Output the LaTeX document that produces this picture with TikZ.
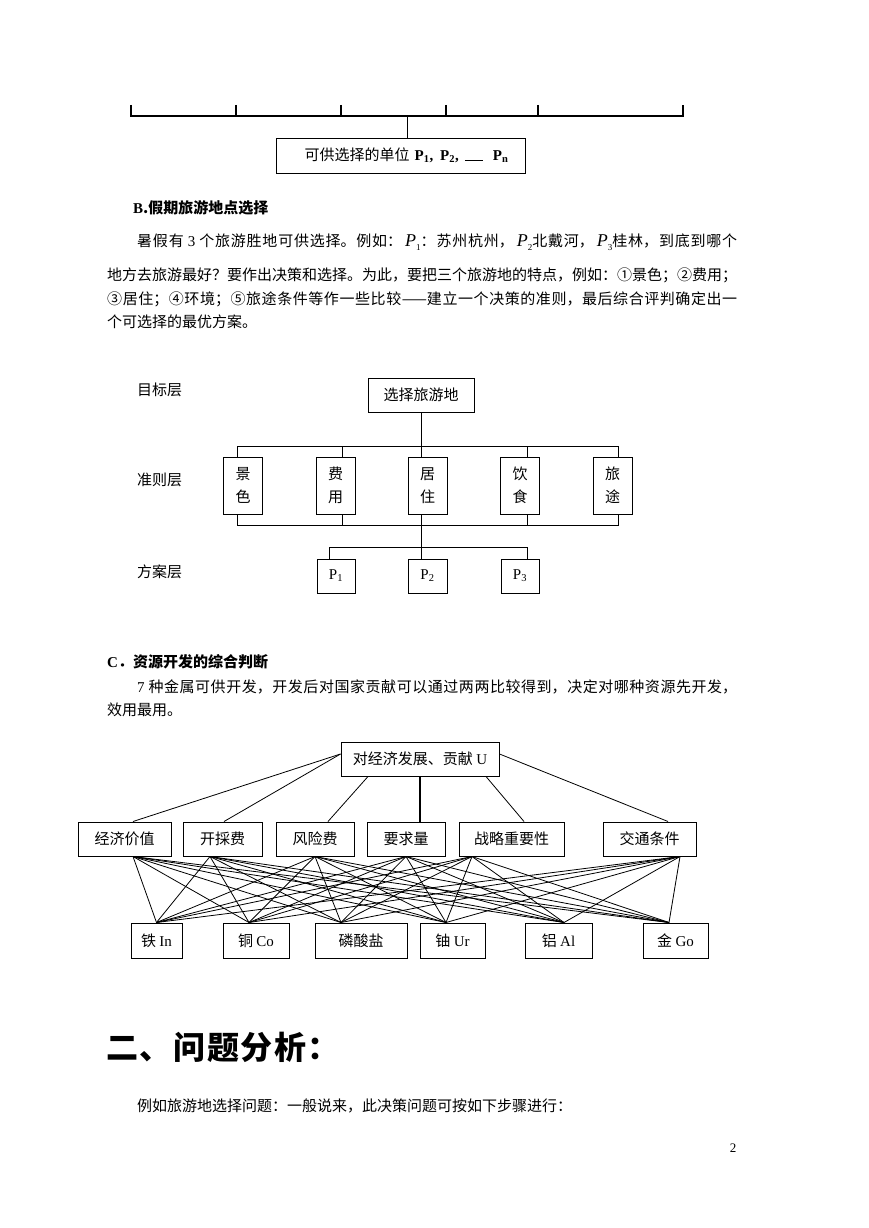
\documentclass[tikz,border=0pt]{standalone}
\usepackage{fontspec}
\setmainfont{Liberation Serif}
\newfontfamily\cjk{Noto Sans CJK SC}
\XeTeXlinebreaklocale "zh"
\XeTeXlinebreakskip=0pt plus 2pt
\newcommand\lt[1]{{\rmfamily #1}}
\newcommand\Pit[1]{\hspace{3pt}{\rmfamily\itshape\fontsize{18}{18}\selectfont P}\raisebox{-4pt}{\rmfamily\fontsize{9}{9}\selectfont #1}}
\newcommand\Pbf[1]{{\rmfamily\bfseries P\textsubscript{#1}}}
\newcommand\Prm[1]{{\rmfamily P\textsubscript{#1}}}
\newcommand\jline[2]{\parbox{#1}{\parindent=0pt\parfillskip=0pt\relax #2}}
\newcommand\hg{\hspace{1.6pt}}
\tikzset{
  base/.style={font=\cjk\fontsize{15}{18}\selectfont, inner sep=0pt},
  txt/.style={base, anchor=west},
  box/.style={base, draw, line width=1pt, align=center},
  ln/.style={line width=0.9pt},
  thinln/.style={line width=0.8pt},
  stemln/.style={line width=1.3pt},
  barln/.style={line width=1.2pt},
}
\begin{document}
\begin{tikzpicture}[x=1pt,y=-1pt]
\useasboundingbox (0,0) rectangle (869,1228);
\fill[white] (0,0) rectangle (869,1228);

% ---------- top fragment ----------
\coordinate (k1) at (131,105);
\coordinate (k2) at (236,105);
\coordinate (k3) at (341,105);
\coordinate (k4) at (446,105);
\coordinate (k5) at (538,105);
\coordinate (k6) at (683,105);
\coordinate (barl) at (131,116);
\coordinate (barr) at (683,116);
\coordinate (stemtop) at (407,116);
\draw[barln] (k1) -- (barl) -- (barr) -- (k6);
\foreach \k in {k2,k3,k4,k5} \draw[barln] (\k) -- (\k |- barl);
\node[box, minimum width=249, minimum height=35] (pbox) at (400.5,155.5)
  {\hspace*{12pt}可供选择的单位\hspace{5pt}\Pbf{1}{\rmfamily\bfseries ,}\hspace{7pt}\Pbf{2}{\rmfamily\bfseries ,}\hspace{6pt}\rule{18pt}{0.6pt}\hspace{10pt}\Pbf{n}};
\draw[ln] (pbox.north -| stemtop) -- (stemtop);

% ---------- section B text ----------
\node[txt, font=\cjk\bfseries\fontsize{15}{18}\selectfont] (hb) at (133,208) {\lt{\bfseries B}.假期旅游地点选择};
\node[txt] (pb1) at (137,242) {\jline{600pt}{暑假有 \lt{3} 个旅游胜地可供选择。例如：\Pit{1}：苏州杭州，\Pit{2}北戴河，\Pit{3}桂林，到底到哪个}};
\node[txt] (pb2) at (107,275) {\jline{630pt}{地方去旅游最好？要作出决策和选择。为此，要把三个旅游地的特点，例如：①景色；②费用；}};
\node[txt] (pb3) at (107,299) {\jline{630pt}{③居住；④环境；⑤旅途条件等作一些比较——建立一个决策的准则，最后综合评判确定出一}};
\node[txt] (pb4) at (107,322) {个可选择的最优方案。};

% ---------- diagram B ----------
\node[txt] (l1) at (137,390) {目标层};
\node[txt] (l2) at (137,480) {准则层};
\node[txt] (l3) at (137,572) {方案层};
\node[box, minimum width=106, minimum height=34] (g) at (421,395) {选择旅游地};
\node[box, minimum width=39, minimum height=57] (c1) at (243,485.5) {景\\[5pt]色};
\node[box, minimum width=39, minimum height=57] (c2) at (335.5,485.5) {费\\[5pt]用};
\node[box, minimum width=39, minimum height=57] (c3) at (427.5,485.5) {居\\[5pt]住};
\node[box, minimum width=39, minimum height=57] (c4) at (520,485.5) {饮\\[5pt]食};
\node[box, minimum width=39, minimum height=57] (c5) at (612.5,485.5) {旅\\[5pt]途};
\node[box, minimum width=38, minimum height=34] (p1) at (336,576) {\Prm{1}};
\node[box, minimum width=39, minimum height=34] (p2) at (427.5,576) {\Prm{2}};
\node[box, minimum width=38, minimum height=34] (p3) at (520,576) {\Prm{3}};
\coordinate (c1t) at ([xshift=-6pt]c1.north);
\coordinate (c2t) at ([xshift=6.5pt]c2.north);
\coordinate (c3t) at ([xshift=-6.5pt]c3.north);
\coordinate (c4t) at ([xshift=7pt]c4.north);
\coordinate (c5t) at ([xshift=5.5pt]c5.north);
\coordinate (c1b) at ([xshift=-6pt]c1.south);
\coordinate (c2b) at ([xshift=6.5pt]c2.south);
\coordinate (c3b) at ([xshift=-6.5pt]c3.south);
\coordinate (c4b) at ([xshift=7pt]c4.south);
\coordinate (c5b) at ([xshift=5.5pt]c5.south);
\coordinate (p1t) at ([xshift=-7pt]p1.north);
\coordinate (p2t) at ([xshift=-6.5pt]p2.north);
\coordinate (p3t) at ([xshift=7pt]p3.north);
\draw[ln] (g.south) -- (c3t);
\draw[ln] (c1t) -- ++(0,-10) -| (c5t);
\foreach \c in {c2t,c4t} \draw[ln] (\c) -- ++(0,-10);
\draw[ln] (c1b) -- ++(0,11) -| (c5b);
\foreach \c in {c2b,c4b} \draw[ln] (\c) -- ++(0,11);
\draw[ln] (c3b) -- (p2t);
\draw[ln] (p1t) -- ++(0,-11) -| (p3t);

% ---------- section C text ----------
\node[txt, font=\cjk\bfseries\fontsize{15}{18}\selectfont] (hc) at (107,662) {\lt{\bfseries C}．资源开发的综合判断};
\node[txt] (pc1) at (137,687) {\jline{600pt}{\lt{7} 种金属可供开发，开发后对国家贡献可以通过两两比较得到，决定对哪种资源先开发，}};
\node[txt] (pc2) at (107,710) {效用最用。};

% ---------- diagram C ----------
\node[box, minimum width=158, minimum height=34] (u) at (420,759) {对经济发展、贡献 \lt{U}};
\node[box, minimum width=93, minimum height=34] (m1) at (124.5,839) {经济价值};
\node[box, minimum width=79, minimum height=34] (m2) at (222.5,839) {开採费};
\node[box, minimum width=78, minimum height=34] (m3) at (315,839) {风险费};
\node[box, minimum width=78, minimum height=34] (m4) at (406,839) {要求量};
\node[box, minimum width=105, minimum height=34] (m5) at (511.5,839) {战略重要性};
\node[box, minimum width=93, minimum height=34] (m6) at (649.5,839) {交通条件};
\node[box, minimum width=51, minimum height=35] (b1) at (156.5,940.5) {铁 \lt{In}};
\node[box, minimum width=66, minimum height=35] (b2) at (256,940.5) {铜 \lt{Co}};
\node[box, minimum width=92, minimum height=35] (b3) at (361,940.5) {磷酸盐};
\node[box, minimum width=65, minimum height=35] (b4) at (452.5,940.5) {铀 \lt{Ur}};
\node[box, minimum width=67, minimum height=35] (b5) at (558.5,940.5) {铝 \lt{Al}};
\node[box, minimum width=65, minimum height=35] (b6) at (675.5,940.5) {金 \lt{Go}};
% U to middle
\draw[thinln] ([yshift=5pt]u.west) -- ([xshift=8.5pt]m1.north);
\draw[thinln] ([yshift=5pt]u.west) -- ([xshift=1.5pt]m2.north);
\draw[thinln] ([xshift=-52pt]u.south) -- ([xshift=13pt]m3.north);
\draw[stemln] (u.south) -- ([xshift=14pt]m4.north);
\draw[thinln] ([xshift=66pt]u.south) -- ([xshift=12.5pt]m5.north);
\draw[thinln] ([yshift=5pt]u.east) -- ([xshift=18.5pt]m6.north);
% middle to bottom
\coordinate (mb1) at ([xshift=8.5pt]m1.south);
\coordinate (mb2) at ([xshift=-12.5pt]m2.south);
\coordinate (mb3) at (m3.south);
\coordinate (mb4) at (m4.south);
\coordinate (mb5) at ([xshift=-39.5pt]m5.south);
\coordinate (mb6) at ([xshift=30.5pt]m6.south);
\coordinate (bt1) at (b1.north);
\coordinate (bt2) at ([xshift=-7pt]b2.north);
\coordinate (bt3) at ([xshift=-20pt]b3.north);
\coordinate (bt4) at ([xshift=-6.5pt]b4.north);
\coordinate (bt5) at ([xshift=5.5pt]b5.north);
\coordinate (bt6) at ([xshift=-6.5pt]b6.north);
\foreach \i in {1,...,6} \foreach \j in {1,...,6} \draw[thinln] (mb\i) -- (bt\j);

% ---------- section 2 ----------
\node[txt, font=\cjk\bfseries\fontsize{32}{36}\selectfont] (h2) at (106,1047)
  {二\hg 、\hg 问\hg 题\hg 分\hg 析\hg ：};
\node[txt] (p2a) at (137,1106) {例如旅游地选择问题：一般说来，此决策问题可按如下步骤进行：};
\node[base, font=\rmfamily\fontsize{13}{15}\selectfont] (pg) at (733,1148) {2};
\end{tikzpicture}
\end{document}
